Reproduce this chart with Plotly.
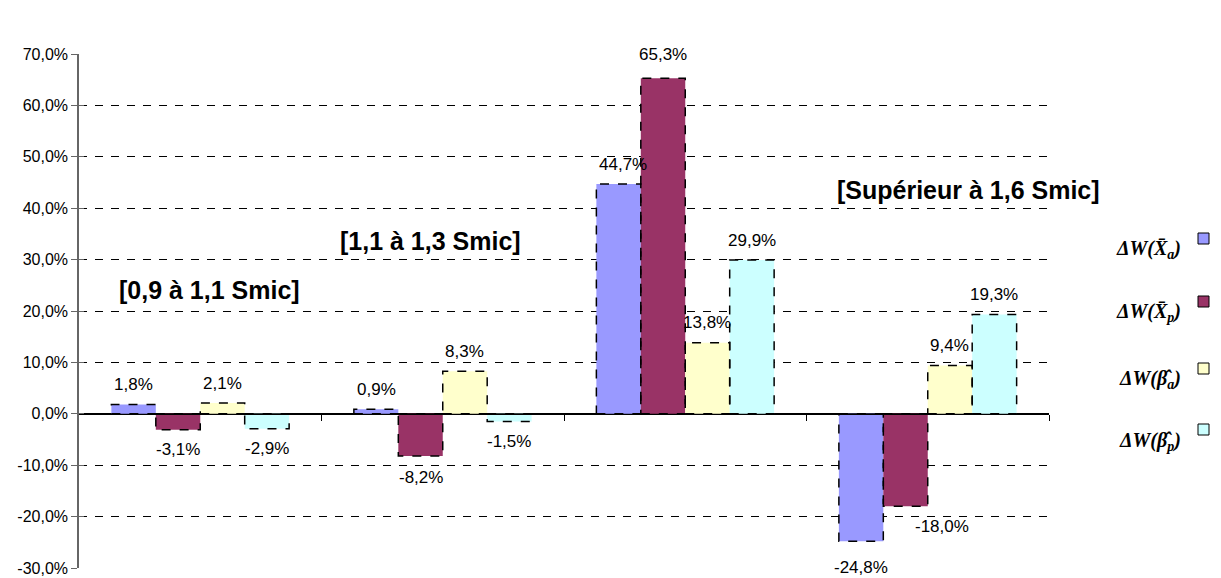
import plotly.graph_objects as go

categories = ["[0,9 à 1,1 Smic]", "[1,1 à 1,3 Smic]", "[1,3 à 1,6 Smic]", "[Supérieur à 1,6 Smic]"]
series_names = ["ΔW(Xa)", "ΔW(Xp)", "ΔW(βa)", "ΔW(βp)"]
xa_vals = [1.8, 0.9, 44.7, -24.8]
xp_vals = [-3.1, -8.2, 65.3, -18.0]
ba_vals = [2.1, 8.3, 13.8, 9.4]
bp_vals = [-2.9, -1.5, 29.9, 19.3]
y_ticks = [-30, -20, -10, 0, 10, 20, 30, 40, 50, 60, 70]

series = [xa_vals, xp_vals, ba_vals, bp_vals]
colors = ["#9999FF", "#993366", "#FFFFCC", "#CCFFFF"]
legend_labels = [
    "<b><i>ΔW(X̄<sub>a</sub>)</i></b>",
    "<b><i>ΔW(X̄<sub>p</sub>)</i></b>",
    "<b><i>ΔW(β̂<sub>a</sub>)</i></b>",
    "<b><i>ΔW(β̂<sub>p</sub>)</i></b>",
]

def fr(v):
    return f"{v:.1f}".replace(".", ",") + "%"

BARGAP = 0.267
W, H = 1221, 588
L, R, T, B = 79, 172, 54, 11
pw = W - L - R
ph = H - T - B

def px_x(px):
    return (px - L) / pw

def px_y(py):
    # reference pixel row -> paper fraction
    return (567 - py) / 514

fig = go.Figure()
xs = list(range(len(categories)))
for name, vals, col in zip(series_names, series, colors):
    fig.add_trace(go.Bar(
        x=xs, y=vals, name=name,
        marker=dict(color=col, line=dict(width=0)),
        cliponaxis=False, hoverinfo="name+y",
    ))
# invisible trace to carry the inner tick marks of the y axis
fig.add_trace(go.Scatter(x=[xs[0]], y=[y_ticks[0]], yaxis="y2", mode="markers",
                         marker=dict(opacity=0), hoverinfo="skip", showlegend=False))

n = len(series)
bw = (1 - BARGAP) / n
shapes = []
annotations = []
# per-label extra pixel shifts (style only)
label_extra = {(3, 1): (36, 0), (3, 0): (0, 6), (1, 1): (0, 2), (2, 1): (0, 4), (2, 0): (4, 0)}
for k, vals in enumerate(series):
    for i, v in enumerate(vals):
        x0 = i - (1 - BARGAP) / 2 + k * bw
        shapes.append(dict(type="rect", xref="x", yref="y", x0=x0, x1=x0 + bw,
                           y0=0, y1=v, line=dict(color="black", width=1.5, dash="dash"),
                           fillcolor="rgba(0,0,0,0)", layer="above"))
        dx, dy = label_extra.get((i, k), (0, 0))
        sgn = 1 if v >= 0 else -1
        annotations.append(dict(xref="x", yref="y", x=x0 + bw / 2, y=v, text=fr(v),
                                showarrow=False, xanchor="center", yanchor="middle",
                                xshift=dx, yshift=sgn * (20 + dy),
                                font=dict(family="Liberation Sans, Arial", size=17, color="black")))

# legend (symbols right of text, like the reference)
sq_tops = [232, 295, 362, 423]
txt_y = [248, 311, 378, 440]
for lab, col, st, ty in zip(legend_labels, colors, sq_tops, txt_y):
    shapes.append(dict(type="rect", xref="paper", yref="paper",
                       x0=px_x(1198), x1=px_x(1209), y0=px_y(st + 11), y1=px_y(st),
                       fillcolor=col, line=dict(color="black", width=1)))
    annotations.append(dict(xref="paper", yref="paper", x=px_x(1183), y=px_y(ty),
                            xanchor="right", yanchor="middle", showarrow=False, text=lab,
                            font=dict(family="Liberation Serif, Times New Roman", size=20, color="black")))

# category labels
cat_pos = [(0.04, 24.1), (0.95, 33.7), (1.86, 76.0), (3.17, 43.6)]
for c, (cx, cy) in zip(categories, cat_pos):
    annotations.append(dict(xref="x", yref="y", x=cx, y=cy, showarrow=False,
                            text=f"<b>{c}</b>", xanchor="center", yanchor="middle",
                            font=dict(family="Liberation Sans, Arial", size=25, color="black")))

fig.update_layout(
    width=W, height=H,
    margin=dict(l=L, r=R, t=T, b=B, pad=0),
    paper_bgcolor="white", plot_bgcolor="white",
    barmode="group", bargap=BARGAP, bargroupgap=0,
    showlegend=False,
    shapes=shapes, annotations=annotations,
    font=dict(family="Liberation Sans, Arial", size=16, color="black"),
    xaxis=dict(type="linear", range=[-0.5, len(categories) - 0.5],
               showgrid=False, zeroline=False, showticklabels=False,
               showline=True, linecolor="black", linewidth=1,
               ticks="outside", ticklen=6, tickcolor="black",
               tickvals=[i + 0.5 for i in range(len(categories))],
               anchor="free", position=(0 - y_ticks[0]) / (y_ticks[-1] - y_ticks[0])),
    yaxis=dict(range=[y_ticks[0], y_ticks[-1]], tickvals=y_ticks,
               ticktext=[fr(v) for v in y_ticks],
               showgrid=True, gridcolor="black", gridwidth=1, griddash="8px,8px",
               zeroline=True, zerolinecolor="black", zerolinewidth=1,
               showline=True, linecolor="#666666", linewidth=1.5,
               ticks="outside", ticklen=6, tickcolor="#666666",
               tickfont=dict(family="Liberation Sans, Arial", size=16, color="black")),
    yaxis2=dict(overlaying="y", side="left", range=[y_ticks[0], y_ticks[-1]],
                tickvals=y_ticks, showticklabels=False, showgrid=False, zeroline=False,
                showline=False, ticks="inside", ticklen=5, tickcolor="#666666"),
)

fig.write_html("out.html", config={"displayModeBar": False},
               post_script="document.body.style.margin='0px';document.body.style.overflow='hidden';")
